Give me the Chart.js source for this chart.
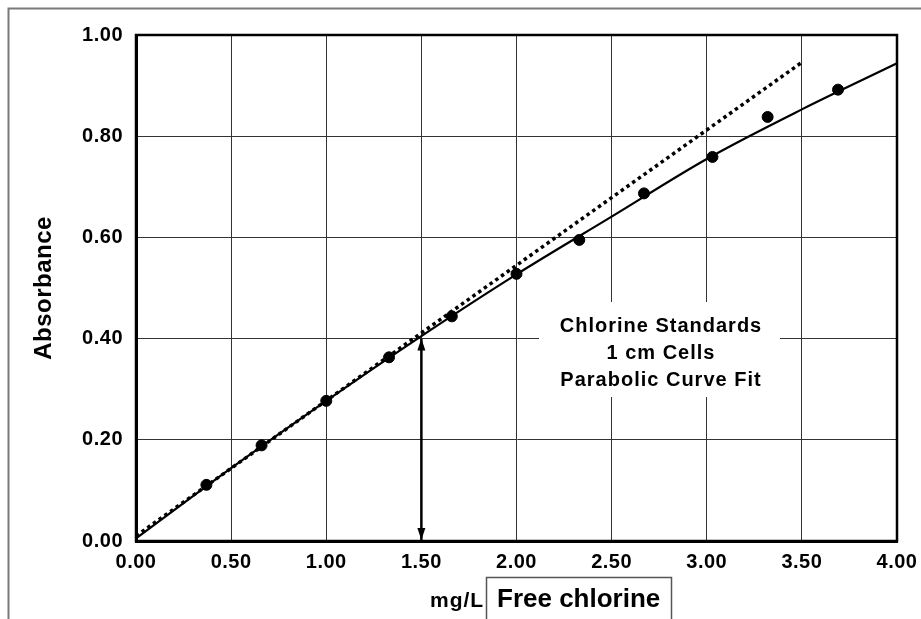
<!DOCTYPE html>
<html>
<head>
<meta charset="utf-8">
<script src="https://cdn.jsdelivr.net/npm/chart.js@4.4.1/dist/chart.umd.min.js"></script>
<style>
  body { margin: 0; background: #fff; }
  #wrap { width: 921px; height: 619px; }
</style>
</head>
<body>
<div id="wrap"><canvas id="chart" width="921" height="619"></canvas></div>
<script>
// Chlorine standards (mg/L free chlorine vs absorbance)
const stdConc = [0.37, 0.66, 1.00, 1.33, 1.66, 2.00, 2.33, 2.67, 3.03, 3.32, 3.69];
const stdAbs  = [0.111, 0.189, 0.277, 0.363, 0.444, 0.528, 0.595, 0.687, 0.759, 0.838, 0.892];

// Parabolic fit
const fitConc = [0, 0.5, 1.0, 1.5, 2.0, 2.5, 3.0, 3.5, 4.0];
const fitAbs  = [0.005, 0.144, 0.277, 0.405, 0.527, 0.641, 0.755, 0.853, 0.944];

// Straight line (dotted)
const linConc = [0, 3.5];
const linAbs  = [0.01, 0.946];

// Double arrow at 1.5 mg/L
const arrowConc = [1.5, 1.5];
const arrowAbs  = [0, 0.40];

// Axis ticks
const xTicks = [0, 0.5, 1.0, 1.5, 2.0, 2.5, 3.0, 3.5, 4.0];
const yTicks = [0, 0.2, 0.4, 0.6, 0.8, 1.0];

const noteLines = ['Chlorine Standards', '1 cm Cells', 'Parabolic Curve Fit'];
const xUnit = 'mg/L';
const xBoxText = 'Free chlorine';
const yTitle = 'Absorbance';

const FONT = '"Liberation Sans", Arial, Helvetica, sans-serif';

const toXY = (xs, ys) => xs.map((x, i) => ({x, y: ys[i]}));

// -------------------- Extra drawing --------------------
const extras = {
  id: 'extras',
  beforeDraw(chart){
    const ctx = chart.ctx;
    ctx.letterSpacing = '0.5px';
    // outer frame (only top and left visible)
    ctx.save();
    ctx.strokeStyle = '#7a7a7a';
    ctx.lineWidth = 2;
    ctx.beginPath();
    ctx.moveTo(8.5, 619);
    ctx.lineTo(8.5, 8.5);
    ctx.lineTo(921, 8.5);
    ctx.stroke();
    ctx.restore();
  },
  beforeDatasetsDraw(chart){
    const ctx = chart.ctx;
    // note box covers the grid
    ctx.save();
    ctx.fillStyle = '#fff';
    ctx.fillRect(539, 302, 241, 95);
    ctx.fillStyle = '#000';
    ctx.font = 'bold 20px ' + FONT;
    ctx.letterSpacing = '1px';
    ctx.textAlign = 'center';
    ctx.textBaseline = 'alphabetic';
    noteLines.forEach((t, i) => ctx.fillText(t, 661, 332 + i * 27));
    ctx.restore();
  },
  afterDatasetsDraw(chart){
    const {ctx, chartArea: a, scales} = chart;
    ctx.save();
    // plot frame
    ctx.strokeStyle = '#000';
    ctx.lineWidth = 2.5;
    ctx.strokeRect(a.left, a.top, a.right - a.left, a.bottom - a.top);

    // arrow heads
    const px = scales.x.getPixelForValue(arrowConc[0]);
    const y0 = scales.y.getPixelForValue(arrowAbs[0]);
    const y1 = scales.y.getPixelForValue(arrowAbs[1]);
    ctx.fillStyle = '#000';
    ctx.beginPath();
    ctx.moveTo(px, y1);
    ctx.lineTo(px - 4, y1 + 12);
    ctx.lineTo(px + 4, y1 + 12);
    ctx.closePath();
    ctx.fill();
    ctx.beginPath();
    ctx.moveTo(px, y0 - 1);
    ctx.lineTo(px - 4, y0 - 13);
    ctx.lineTo(px + 4, y0 - 13);
    ctx.closePath();
    ctx.fill();
    ctx.restore();
  },
  afterDraw(chart){
    const ctx = chart.ctx;
    ctx.save();
    // x axis unit
    ctx.fillStyle = '#000';
    ctx.font = 'bold 21px ' + FONT;
    ctx.letterSpacing = '1px';
    ctx.textAlign = 'left';
    ctx.textBaseline = 'alphabetic';
    ctx.fillText(xUnit, 430, 607);
    // boxed label
    ctx.letterSpacing = '0px';
    ctx.fillStyle = '#fff';
    ctx.fillRect(486, 577, 186, 50);
    ctx.strokeStyle = '#555';
    ctx.lineWidth = 1.5;
    ctx.strokeRect(486.5, 577.5, 185, 50);
    ctx.fillStyle = '#000';
    ctx.font = 'bold 26px ' + FONT;
    ctx.fillText(xBoxText, 497, 607);
    ctx.restore();
  }
};

const tickFont = {family: FONT, size: 20, weight: 'bold'};

new Chart(document.getElementById('chart'), {
  type: 'scatter',
  data: {
    datasets: [
      {
        label: 'Standards',
        data: toXY(stdConc, stdAbs),
        showLine: false,
        pointRadius: 5.5,
        pointBackgroundColor: '#000',
        pointBorderColor: '#000',
        pointBorderWidth: 1
      },
      {
        label: 'Parabolic fit',
        data: toXY(fitConc, fitAbs),
        showLine: true,
        borderColor: '#000',
        borderWidth: 2.2,
        cubicInterpolationMode: 'monotone',
        pointRadius: 0
      },
      {
        label: 'Linear',
        data: toXY(linConc, linAbs),
        showLine: true,
        borderColor: '#000',
        borderWidth: 3.5,
        borderDash: [3.5, 3.5],
        pointRadius: 0
      },
      {
        label: 'Arrow',
        data: toXY(arrowConc, arrowAbs),
        showLine: true,
        borderColor: '#000',
        borderWidth: 2.5,
        pointRadius: 0
      }
    ]
  },
  options: {
    responsive: false,
    animation: false,
    layout: { padding: { top: 35, right: 0, left: 0, bottom: 0 } },
    plugins: { legend: { display: false }, tooltip: { enabled: false } },
    scales: {
      x: {
        type: 'linear', min: 0, max: 4,
        afterBuildTicks: s => { s.ticks = xTicks.map(v => ({value: v})); },
        afterFit: s => { s.height = 78; s.paddingLeft = 0; s.paddingRight = 24; },
        grid: { color: '#333', lineWidth: 1, drawTicks: false },
        border: { color: '#000', width: 3 },
        ticks: { color: '#000', font: tickFont, padding: 9, maxRotation: 0, autoSkip: false,
                 callback: v => Number(v).toFixed(2) }
      },
      y: {
        type: 'linear', min: 0, max: 1,
        afterBuildTicks: s => { s.ticks = yTicks.map(v => ({value: v})); },
        afterFit: s => { s.width = 136; },
        grid: { color: '#333', lineWidth: 1, drawTicks: false },
        border: { color: '#000', width: 3 },
        ticks: { color: '#000', font: tickFont, padding: 13,
                 callback: v => Number(v).toFixed(2) },
        title: { display: true, text: yTitle, color: '#000',
                 font: {family: FONT, size: 24, weight: 'bold'}, padding: {top: 30, bottom: 0} }
      }
    }
  },
  plugins: [extras]
});
</script>
</body>
</html>
